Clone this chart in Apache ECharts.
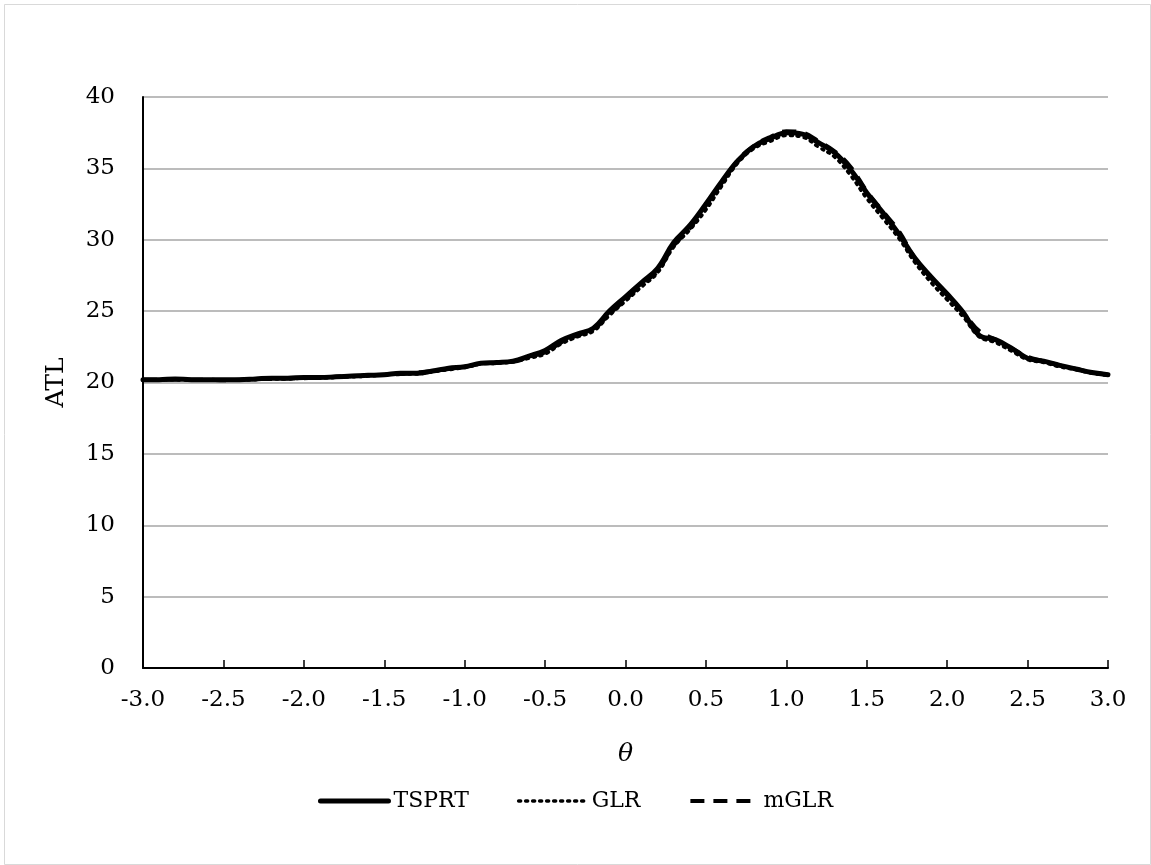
<!DOCTYPE html>
<html>
<head>
<meta charset="utf-8">
<title>ATL by θ</title>
<script src="https://cdn.jsdelivr.net/npm/echarts@6/dist/echarts.min.js"></script>
<style>
  html, body { margin: 0; padding: 0; background: #ffffff; }
  #chart { width: 1151px; height: 865px; }
</style>
</head>
<body>
<div id="chart"></div>
<script>
// θ grid shared by all three procedures
const theta = [
  -3.0, -2.9, -2.8, -2.7, -2.6, -2.5, -2.4, -2.3, -2.2, -2.1,
  -2.0, -1.9, -1.8, -1.7, -1.6, -1.5, -1.4, -1.3, -1.2, -1.1,
  -1.0, -0.9, -0.8, -0.7, -0.6, -0.5, -0.4, -0.3, -0.2, -0.1,
   0.0,  0.1,  0.2,  0.3,  0.4,  0.5,  0.6,  0.7,  0.8,  0.9,
   1.0,  1.1,  1.2,  1.3,  1.4,  1.5,  1.6,  1.7,  1.8,  1.9,
   2.0,  2.1,  2.2,  2.3,  2.4,  2.5,  2.6,  2.7,  2.8,  2.9,
   3.0
];

// Average test length for each procedure
const tsprt = [
  20.2, 20.2, 20.25, 20.2, 20.2, 20.2, 20.2, 20.25, 20.3, 20.3,
  20.35, 20.35, 20.4, 20.45, 20.5, 20.55, 20.65, 20.65, 20.8, 21.0,
  21.1, 21.35, 21.4, 21.5, 21.85, 22.25, 22.95, 23.4, 23.8, 25.0,
  26.0, 27.0, 28.0, 29.8, 31.0, 32.5, 34.1, 35.55, 36.55, 37.1,
  37.5, 37.4, 36.8, 36.1, 34.9, 33.3, 31.9, 30.4, 28.7, 27.4,
  26.2, 24.9, 23.3, 23.0, 22.4, 21.7, 21.5, 21.2, 20.95, 20.7,
  20.55
];

const glr = [
  20.15, 20.15, 20.2, 20.15, 20.15, 20.2, 20.15, 20.2, 20.25, 20.25,
  20.3, 20.3, 20.35, 20.4, 20.45, 20.55, 20.6, 20.6, 20.75, 20.9,
  21.05, 21.3, 21.35, 21.45, 21.7, 22.0, 22.7, 23.2, 23.6, 24.7,
  25.7, 26.7, 27.7, 29.5, 30.7, 32.1, 33.8, 35.4, 36.4, 36.9,
  37.3, 37.2, 36.5, 35.8, 34.5, 32.9, 31.5, 30.1, 28.4, 27.0,
  25.8, 24.6, 23.2, 22.8, 22.2, 21.6, 21.4, 21.1, 20.9, 20.65,
  20.5
];

const mglr = [
  20.2, 20.2, 20.2, 20.2, 20.2, 20.15, 20.2, 20.25, 20.25, 20.3,
  20.3, 20.35, 20.4, 20.45, 20.5, 20.55, 20.6, 20.7, 20.8, 20.95,
  21.1, 21.3, 21.4, 21.45, 21.8, 22.1, 22.8, 23.3, 23.7, 24.8,
  25.8, 26.9, 27.8, 29.6, 30.8, 32.4, 34.0, 35.6, 36.6, 37.2,
  37.6, 37.5, 36.9, 36.2, 35.1, 33.4, 32.0, 30.6, 28.7, 27.3,
  26.1, 24.9, 23.6, 23.0, 22.4, 21.8, 21.5, 21.2, 20.95, 20.7,
  20.55
];

const seriesNames = ['TSPRT', 'GLR', 'mGLR'];

const pairs = (ys) => theta.map((t, i) => [t, ys[i]]);

const fontFamily = '"DejaVu Serif", "Liberation Serif", serif';

const chart = echarts.init(document.getElementById('chart'), null, { renderer: 'canvas' });

chart.setOption({
  backgroundColor: '#ffffff',
  animation: false,
  textStyle: { fontFamily: fontFamily, color: '#000000' },
  graphic: [{
    type: 'rect',
    left: 2, top: 2,
    shape: { width: 1146, height: 860 },
    style: { fill: 'none', stroke: '#d9d9d9', lineWidth: 1 },
    silent: true
  }],
  grid: { left: 143, right: 43, top: 97, bottom: 197, containLabel: false },
  legend: {
    bottom: 48,
    left: 'center',
    itemWidth: 68,
    itemHeight: 14,
    itemGap: 48,
    itemStyle: { opacity: 0 },
    lineStyle: { width: 'inherit' },
    textStyle: { fontFamily: fontFamily, fontSize: 22, color: '#000000' },
    data: seriesNames
  },
  xAxis: {
    type: 'value',
    min: -3, max: 3, interval: 0.5,
    name: 'θ',
    nameLocation: 'middle',
    nameGap: 74,
    nameTextStyle: { fontFamily: fontFamily, fontStyle: 'italic', fontSize: 25, color: '#000000' },
    axisLine: { show: true, onZero: false, lineStyle: { color: '#000000', width: 2 } },
    axisTick: { show: true, inside: true, length: 8, lineStyle: { color: '#000000', width: 1.5 } },
    axisLabel: {
      margin: 21,
      fontSize: 23,
      color: '#000000',
      fontFamily: fontFamily,
      formatter: (v) => v.toFixed(1)
    },
    splitLine: { show: false }
  },
  yAxis: {
    type: 'value',
    min: 0, max: 40, interval: 5,
    name: 'ATL',
    nameLocation: 'middle',
    nameRotate: 90,
    nameGap: 74,
    nameTextStyle: { fontFamily: fontFamily, fontSize: 25, color: '#000000' },
    axisLine: { show: true, onZero: false, lineStyle: { color: '#000000', width: 2 } },
    axisTick: { show: false },
    axisLabel: { margin: 28, fontSize: 23, color: '#000000', fontFamily: fontFamily },
    splitLine: { show: true, lineStyle: { color: '#a6a6a6', width: 1.5 } }
  },
  series: [
    {
      name: 'TSPRT', type: 'line', data: pairs(tsprt),
      symbol: 'none', smooth: 0.4, z: 3,
      lineStyle: { color: '#000000', width: 5, type: 'solid', cap: 'round' },
      itemStyle: { color: '#000000' }
    },
    {
      name: 'GLR', type: 'line', data: pairs(glr),
      symbol: 'none', smooth: 0.4, z: 4,
      lineStyle: { color: '#000000', width: 3.5, type: [2, 5], cap: 'round' },
      itemStyle: { color: '#000000' }
    },
    {
      name: 'mGLR', type: 'line', data: pairs(mglr),
      symbol: 'none', smooth: 0.4, z: 5,
      lineStyle: { color: '#000000', width: 4, type: [14, 9] },
      itemStyle: { color: '#000000' }
    }
  ]
});
</script>
</body>
</html>
